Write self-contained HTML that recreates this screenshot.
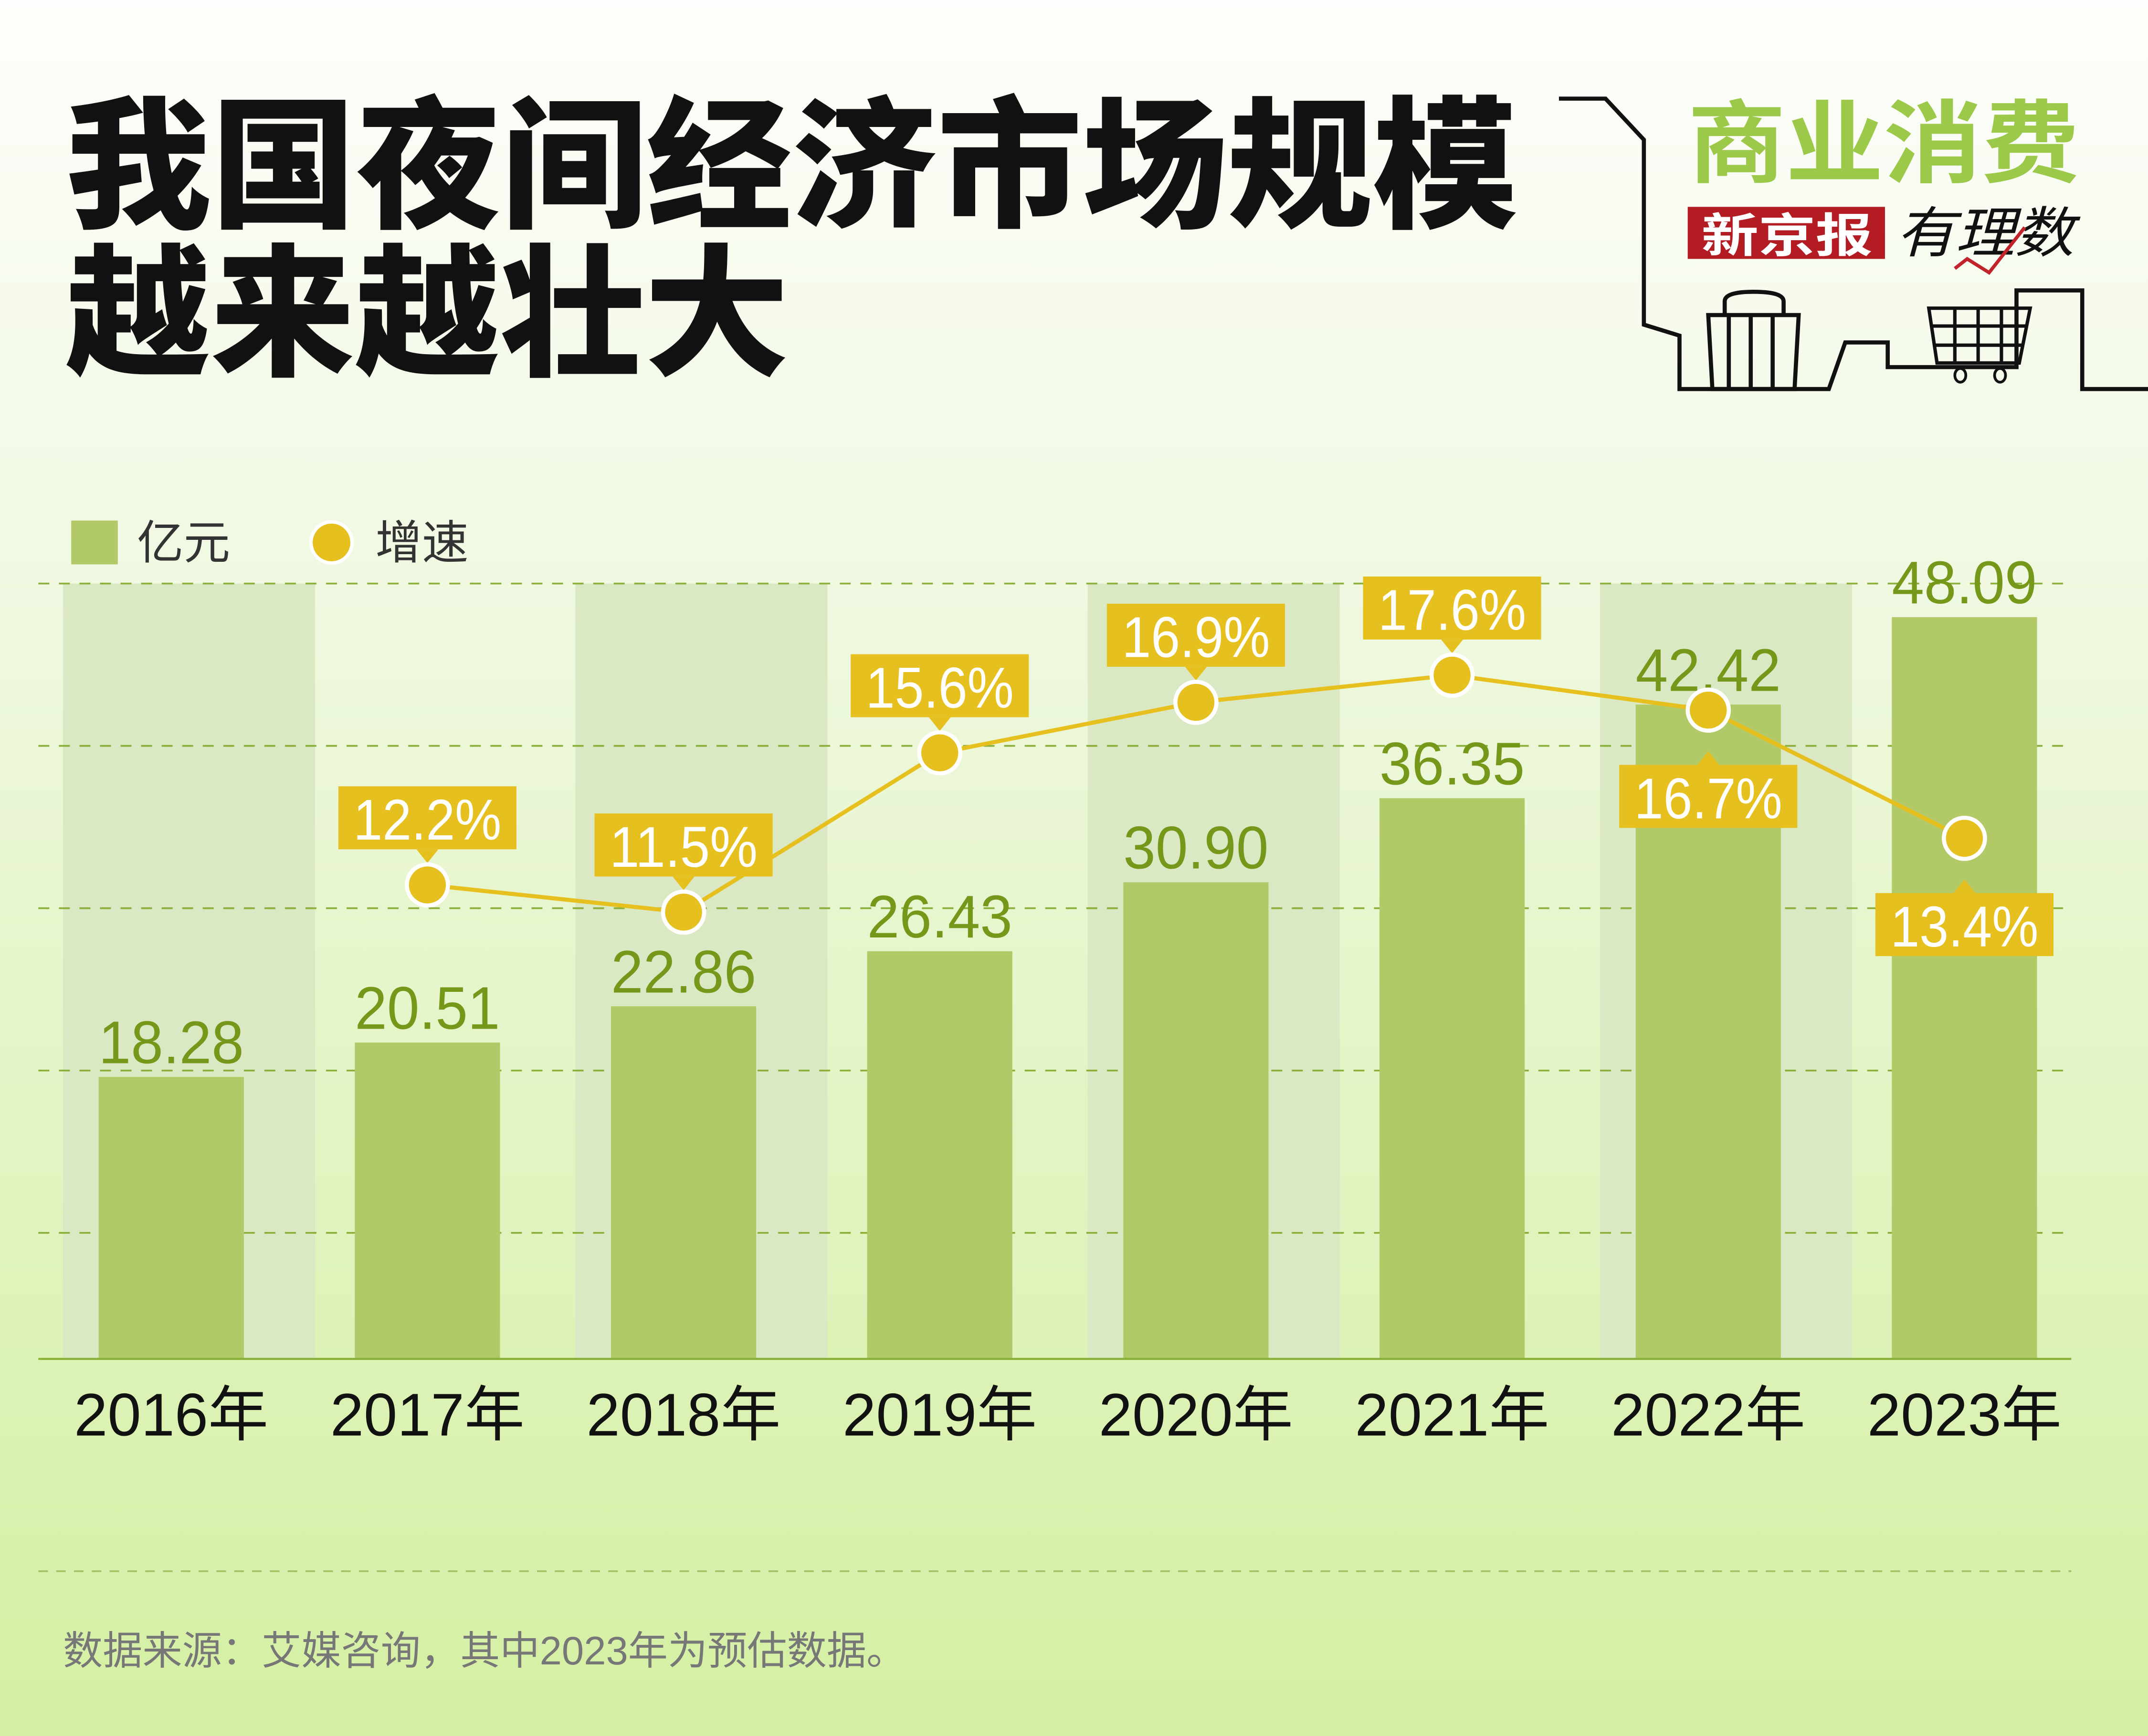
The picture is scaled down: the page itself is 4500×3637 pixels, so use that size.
<!DOCTYPE html>
<html><head><meta charset="utf-8">
<style>
html,body{margin:0;padding:0;width:4500px;height:3637px;overflow:hidden}
svg{display:block}
text{font-family:"Liberation Sans","Noto Sans CJK SC",sans-serif}
.n{font-family:"Liberation Sans Narrow","Liberation Sans","Noto Sans CJK SC",sans-serif}
</style></head>
<body>
<svg id="chart" width="4500" height="3637" viewBox="0 0 1568 1267.3" preserveAspectRatio="none" xmlns="http://www.w3.org/2000/svg">
<defs>
<linearGradient id="bg" x1="0" y1="0" x2="0" y2="1">
<stop offset="0" stop-color="#fdfefb"/>
<stop offset="0.3" stop-color="#f1f9e4"/>
<stop offset="1" stop-color="#d4efa2"/>
</linearGradient>
</defs>
<rect x="0" y="0" width="1568" height="1268" fill="url(#bg)"/>
<g font-weight="bold" fill="#111" font-size="104">
<text x="48" y="158" font-family="'Noto Sans CJK SC',sans-serif" font-weight="900" textLength="1060" lengthAdjust="spacingAndGlyphs">我国夜间经济市场规模</text>
<text x="48" y="266" font-family="'Noto Sans CJK SC',sans-serif" font-weight="900" textLength="528" lengthAdjust="spacingAndGlyphs">越来越壮大</text>
</g>
<g>
<polyline fill="none" stroke="#111" stroke-width="3" points="1138,72 1172,72 1200,102 1200,237 1226,245 1226,284 1335,284 1347,250 1378,250 1378,268 1472,268 1472,212 1520,212 1520,284 1568,284"/>
<path d="M1247,230 L1313,230 L1310,284 L1250,284 Z M1262,230 V284 M1278,230 V284 M1294,230 V284" fill="none" stroke="#111" stroke-width="3"/>
<path d="M1259,230 V220 Q1259,213 1280,213 Q1302,213 1302,220 V230" fill="none" stroke="#111" stroke-width="3"/>
<path d="M1408,225 L1482,225 L1474,265 L1414,265 Z M1410,238 H1480 M1412,252 H1477 M1427,225 V265 M1444,225 V265 M1461,225 V265" fill="none" stroke="#111" stroke-width="2.5"/>
<ellipse cx="1431" cy="274" rx="4" ry="5" fill="none" stroke="#111" stroke-width="2"/>
<ellipse cx="1460" cy="274" rx="4" ry="5" fill="none" stroke="#111" stroke-width="2"/>
<text x="1232" y="128" font-family="'Noto Serif CJK SC',serif" font-weight="bold" font-size="66" fill="#9dc94a" textLength="286" lengthAdjust="spacingAndGlyphs">商业消费</text>
<rect x="1232" y="151" width="144" height="38" fill="#b41c24"/>
<text x="1242" y="184" font-family="'Noto Serif CJK SC',serif" font-weight="bold" font-size="34" fill="#fff" textLength="125" lengthAdjust="spacingAndGlyphs">新京报</text>
<text x="1384" y="184" font-family="'Noto Sans CJK SC',sans-serif" font-size="40" font-style="italic" fill="#111" textLength="130" lengthAdjust="spacingAndGlyphs">有理数</text>
<polyline points="1427,196 1436,189 1452,199 1478,166" fill="none" stroke="#c0242a" stroke-width="2.5"/>
</g>
<g>
<rect x="52" y="380" width="34" height="32" fill="#b2c968"/>
<text x="100" y="408" font-size="34" fill="#333">亿元</text>
<circle cx="242" cy="396" r="15" fill="#e6c01e" stroke="#fff" stroke-width="2.5"/>
<text x="274" y="408" font-size="34" fill="#333">增速</text>
</g>
<g id="bands"></g>
<g id="grid"></g>
<g id="bars"></g>
<g id="line"></g>
<g id="xaxis"></g>
<line x1="28" y1="1147" x2="1512" y2="1147" stroke="#a3bf63" stroke-width="1.2" stroke-dasharray="7,6"/>
<text x="46" y="1215" font-size="29" fill="#777">数据来源：艾媒咨询，其中2023年为预估数据。</text>
</svg>
<script>
const categories = ['2016年','2017年','2018年','2019年','2020年','2021年','2022年','2023年'];
const values = [18.28, 20.51, 22.86, 26.43, 30.90, 36.35, 42.42, 48.09];
const valueLabels = ['18.28','20.51','22.86','26.43','30.90','36.35','42.42','48.09'];
const growthYears = ['2017年','2018年','2019年','2020年','2021年','2022年','2023年'];
const growth = [12.2, 11.5, 15.6, 16.9, 17.6, 16.7, 13.4];
const growthLabels = ['12.2%','11.5%','15.6%','16.9%','17.6%','16.7%','13.4%'];
const gridLevels = [0, 1, 2, 3, 4];

const NS = 'http://www.w3.org/2000/svg';
const baseY = 992;
const x0 = 125, step = 187;
function xPos(i){ return x0 + i*step; }
function yVal(v){ return baseY - v*11.26; }
function yPct(v){ return baseY - v*28.36; }
function yGrid(k){ return 426 + k*118.5; }
function mk(tag, attrs, parent){ const e=document.createElementNS(NS,tag); for(const k in attrs) e.setAttribute(k,attrs[k]); parent.appendChild(e); return e; }

const bands = document.getElementById('bands');
categories.forEach((c,i)=>{
  if(i%2===0){
    const r = mk('rect',{x:xPos(i)-79,y:426,width:184,height:baseY-426,fill:'#dbe8c4'},bands);
    
    
  }
});
const grid = document.getElementById('grid');
gridLevels.forEach(k=>{
  const l = mk('line',{x1:28,x2:1512,y1:yGrid(k),y2:yGrid(k),stroke:'#8ab03a','stroke-width':1.3,'stroke-dasharray':'8,7'},grid);
  
  
});
const bars = document.getElementById('bars');
values.forEach((v,i)=>{
  const b = mk('rect',{x:xPos(i)-53,y:yVal(v),width:106,height:baseY-yVal(v),fill:'#b2c968'},bars);
  
  
  const t = mk('text',{x:xPos(i)-53,y:yVal(v)-10,'font-size':44,fill:'#76981a',class:'n',textLength:106,lengthAdjust:'spacingAndGlyphs'},bars);
  t.textContent = valueLabels[i];
  
  
});
mk('line',{x1:28,x2:1512,y1:baseY,y2:baseY,stroke:'#8ab03a','stroke-width':1.5},bars);

const line = document.getElementById('line');
const pts = growth.map((g,j)=>[xPos(categories.indexOf(growthYears[j])), yPct(g)]);
const pl = mk('polyline',{points:pts.map(p=>p.join(',')).join(' '),fill:'none',stroke:'#e6c01e','stroke-width':3},line);


growth.forEach((g,j)=>{
  const [x,y] = pts[j];
  const below = j >= 5;
  const bw = 130, bh = 46;
  const by = below ? y+40 : y-72;
  const grp = mk('g',{},line);
  
  
  mk('rect',{x:x-bw/2,y:by,width:bw,height:bh,fill:'#e6c01e'},grp);
  const tp = below ? `${x-8},${by} ${x+8},${by} ${x},${by-10}` : `${x-8},${by+bh} ${x+8},${by+bh} ${x},${by+bh+10}`;
  mk('polygon',{points:tp,fill:'#e6c01e'},grp);
  const t = mk('text',{x:x-54,y:by+39,'font-size':42,fill:'#fff',class:'n',textLength:108,lengthAdjust:'spacingAndGlyphs'},grp);
  t.textContent = growthLabels[j];
  const c = mk('circle',{cx:x,cy:y,r:15,fill:'#e6c01e',stroke:'#fff','stroke-width':3},line);
  
  
});
const xa = document.getElementById('xaxis');
categories.forEach((c,i)=>{
  const t = mk('text',{x:xPos(i),y:1048,'text-anchor':'middle','font-size':44,fill:'#111'},xa);
  t.textContent = c;
  
  
});
</script>
</body></html>
